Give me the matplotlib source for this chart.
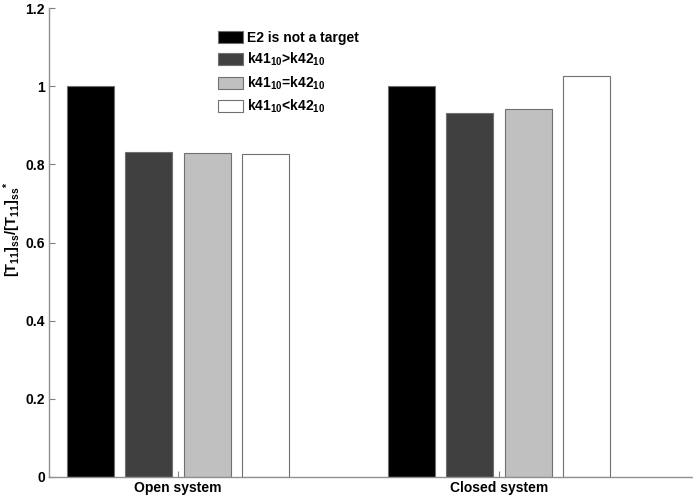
import matplotlib
matplotlib.use("Agg")
import matplotlib.pyplot as plt
import numpy as np

plt.rcParams['font.family'] = ['Liberation Sans', 'DejaVu Sans']
plt.rcParams['mathtext.fontset'] = 'custom'
plt.rcParams['mathtext.rm'] = 'Liberation Sans:bold'
plt.rcParams['mathtext.bf'] = 'Liberation Sans:bold'
plt.rcParams['mathtext.it'] = 'Liberation Sans:bold'
plt.rcParams['mathtext.sf'] = 'Liberation Sans:bold'

groups = ["Open system", "Closed system"]
series_labels = [r"E2 is not a target",
                 r"k41$_\mathbf{10}$>k42$_\mathbf{10}$",
                 r"k41$_\mathbf{10}$=k42$_\mathbf{10}$",
                 r"k41$_\mathbf{10}$<k42$_\mathbf{10}$"]
values = [
    [1.0, 1.0],
    [0.831, 0.932],
    [0.828, 0.942],
    [0.827, 1.025],
]
colors = ["#000000", "#404040", "#c0c0c0", "#ffffff"]
yticks = [0, 0.2, 0.4, 0.6, 0.8, 1.0, 1.2]
ytick_labels = ["0", "0.2", "0.4", "0.6", "0.8", "1", "1.2"]
ylabel_text = r"$\mathbf{[T_{11}]_{ss}/[T_{11}]_{ss}{}^{*}}$"

fig = plt.figure(figsize=(6.93, 4.96), dpi=100)
L = 49
ax = fig.add_axes([L/693, 19/496, (693-L)/693, 469/496])

x = np.arange(1, len(groups) + 1)
width = 0.146
step = 0.182
handles = []
for i, (vals, c) in enumerate(zip(values, colors)):
    off = (i - 1.5) * step
    b = ax.bar(x + off, vals, width, color=c, edgecolor="#707070", linewidth=0.8,
               label=series_labels[i])
    handles.append(b)

ax.set_xlim(1 - (178 - L)/321, 2 + (693 - 499)/321)
ax.set_ylim(0, 1.2)
ax.set_yticks(yticks)
ax.set_yticklabels(ytick_labels, fontsize=10, fontweight='bold')
ax.set_xticks(x)
ax.set_xticklabels(groups, fontsize=10, fontweight='bold')
ax.tick_params(axis='both', direction='in', color='#808080', length=4, width=0.8, pad=3)
for s in ['top', 'right']:
    ax.spines[s].set_visible(False)
for s in ['left', 'bottom']:
    ax.spines[s].set_color('#909090')
    ax.spines[s].set_linewidth(1.0)

ax.set_ylabel(ylabel_text, fontsize=10.5)
ax.yaxis.set_label_coords((23 - L)/(693 - L), (477 - 229)/469)

leg = ax.legend(handles=handles, loc='upper left', bbox_to_anchor=(205/693, 1 - 18/496),
                bbox_transform=fig.transFigure, frameon=False,
                prop={'weight': 'bold', 'size': 10}, handlelength=1.87, handleheight=0.95,
                handletextpad=0.25, labelspacing=0.45)

fig.savefig("out.png", dpi=100)
